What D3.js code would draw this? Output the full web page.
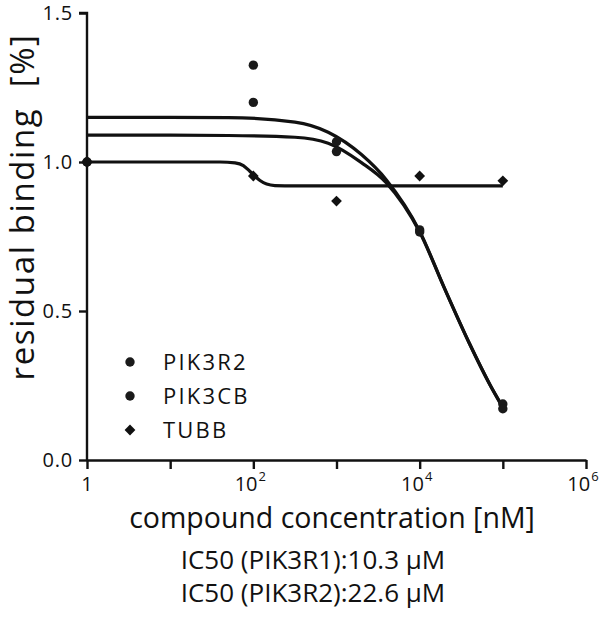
<!DOCTYPE html>
<html>
<head>
<meta charset="utf-8">
<script src="https://cdn.jsdelivr.net/npm/d3@7"></script>
<style>
  html, body { margin: 0; padding: 0; background: #fff; }
  svg { display: block; font-family: "Open Sans", "DejaVu Sans", sans-serif; }
</style>
</head>
<body>
<svg id="chart" width="600" height="617"></svg>
<script>
// ---------- data ----------
const concentrations = [1, 100, 1000, 10000, 100000];            // nM
const pik3r2Values  = [1.00, 1.325, 1.068, 0.772, 0.188];
const pik3cbValues  = [1.00, 1.200, 1.035, 0.765, 0.172];
const tubbValues    = [1.00, 0.953, 0.869, 0.953, 0.937];

// fitted curves (log10 concentration -> residual binding)
const fitLogConc    = [0, 1, 1.7, 2.5, 2.9, 3.3, 3.6, 4.0, 4.3, 4.6, 4.85, 5.0];
const pik3r2Fit     = [1.15, 1.15, 1.149, 1.134, 1.10, 1.025, 0.94, 0.768, 0.575, 0.39, 0.25, 0.178];
const pik3cbFit     = [1.09, 1.09, 1.089, 1.083, 1.063, 0.998, 0.93, 0.765, 0.575, 0.39, 0.25, 0.175];
const tubbFitLog    = [0, 1, 1.6, 1.78, 1.88, 1.96, 2.02, 2.08, 2.16, 2.26, 2.5, 5.0];
const tubbFit       = [1.0, 1.0, 1.0, 0.997, 0.988, 0.968, 0.952, 0.938, 0.926, 0.921, 0.92, 0.92];

const seriesNames   = ["PIK3R2", "PIK3CB", "TUBB"];
const yTicks        = [0, 0.5, 1.0, 1.5];
const xTickExps     = [0, 1, 2, 3, 4, 5, 6];
const xLabelExps    = [0, 2, 4, 6];
const xTitle        = "compound concentration [nM]";
const yTitle        = "residual binding  [%]";
const notes         = ["IC50 (PIK3R1):10.3 µM", "IC50 (PIK3R2):22.6 µM"];

// ---------- layout ----------
const svg = d3.select("#chart");
const ink = "#111";
const x = d3.scaleLog().domain([1, 1e6]).range([87, 586]);
const y = d3.scaleLinear().domain([0, 1.5]).range([460, 13]);

// ---------- axes ----------
const yAxis = d3.axisLeft(y).tickValues(yTicks).tickFormat(d3.format(".1f"))
  .tickSize(8).tickPadding(6);
const gy = svg.append("g").attr("transform", `translate(${x(1)},0)`).call(yAxis);
gy.select(".domain").attr("d", `M-8,${y(1.5)}H0V${y(0)}`);

const xAxis = d3.axisBottom(x).tickValues(xTickExps.map(e => Math.pow(10, e)))
  .tickFormat(() => "").tickSize(9).tickSizeOuter(0);
const gx = svg.append("g").attr("transform", `translate(0,${y(0)})`).call(xAxis);

[gx, gy].forEach(g => {
  g.select(".domain").attr("stroke", ink).attr("stroke-width", 2.4).attr("fill", "none");
  g.selectAll(".tick line").attr("stroke", ink).attr("stroke-width", 2.4);
});
gy.selectAll(".tick text").attr("font-size", 20).attr("letter-spacing", 0.8).attr("fill", ink)
  .attr("font-family", "'Open Sans', sans-serif");

// x tick labels with superscript exponents
const xl = svg.append("g");
xLabelExps.forEach(e => {
  const t = xl.append("text")
    .attr("x", x(Math.pow(10, e)) - (e === 0 ? 0 : 3))
    .attr("y", 491)
    .attr("text-anchor", "middle")
    .attr("font-size", 20).attr("fill", ink);
  if (e === 0) { t.text("1"); }
  else {
    t.append("tspan").text("10");
    t.append("tspan").attr("dy", -10).attr("dx", 1).attr("font-size", 13).text(e);
  }
});

// ---------- curves ----------
const line = d3.line().x(d => x(Math.pow(10, d[0]))).y(d => y(d[1])).curve(d3.curveMonotoneX);
const curves = [
  d3.zip(fitLogConc, pik3r2Fit),
  d3.zip(fitLogConc, pik3cbFit),
  d3.zip(tubbFitLog, tubbFit)
];
svg.append("g").selectAll("path").data(curves).join("path")
  .attr("d", line).attr("fill", "none").attr("stroke", ink).attr("stroke-width", 3.2);

// ---------- points ----------
const circleSeries = [pik3r2Values, pik3cbValues];
circleSeries.forEach(vals => {
  svg.append("g").selectAll("circle").data(d3.zip(concentrations, vals)).join("circle")
    .attr("cx", d => x(d[0])).attr("cy", d => y(d[1])).attr("r", 4.7).attr("fill", "#1a1a1a");
});
svg.append("g").selectAll("path").data(d3.zip(concentrations, tubbValues)).join("path")
  .attr("transform", d => `translate(${x(d[0])},${y(d[1])}) rotate(45)`)
  .attr("d", d3.symbol().type(d3.symbolSquare).size(58)).attr("fill", ink);

// ---------- legend ----------
const legY = [362, 396, 430];
const leg = svg.append("g");
seriesNames.forEach((name, i) => {
  if (i < 2) leg.append("circle").attr("cx", 130).attr("cy", legY[i]).attr("r", 4.7).attr("fill", "#1a1a1a");
  else leg.append("path").attr("transform", `translate(130,${legY[i]}) rotate(45)`)
    .attr("d", d3.symbol().type(d3.symbolSquare).size(58)).attr("fill", ink);
  leg.append("text").attr("x", 163).attr("y", legY[i] + 8)
    .attr("font-size", 22).attr("letter-spacing", 2.2).attr("fill", ink).text(name);
});

// ---------- titles ----------
svg.append("text").attr("x", 332).attr("y", 528).attr("text-anchor", "middle")
  .attr("font-size", 28.5).attr("fill", ink).text(xTitle);
svg.append("text").attr("transform", "translate(34,207) rotate(-90)").attr("text-anchor", "middle")
  .style("white-space", "pre")
  .attr("font-size", 33).attr("letter-spacing", 1.6).attr("fill", ink).text(yTitle);
notes.forEach((n, i) => {
  svg.append("text").attr("x", 313).attr("y", 569 + i * 33).attr("text-anchor", "middle")
    .attr("font-size", 26).attr("fill", ink).text(n);
});
</script>
</body>
</html>
